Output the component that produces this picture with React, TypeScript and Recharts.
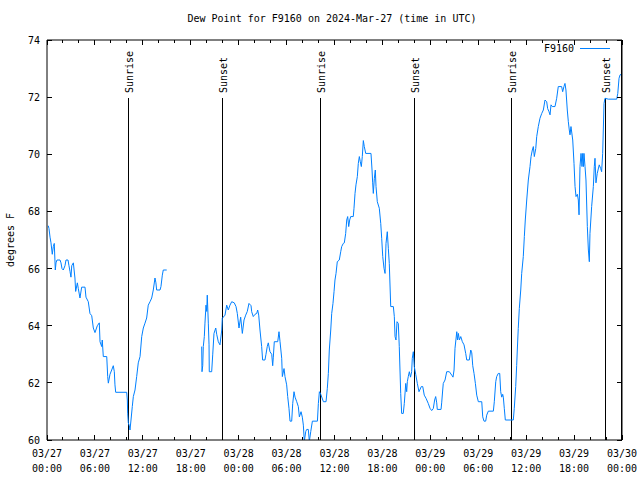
import React from "react";
import { LineChart, Line, XAxis, YAxis, ReferenceLine, Legend } from "recharts";

// [hours since 03/27 00:00 UTC, dew point °F]; null marks the data gap
const readings: [number, number | null][] = [
  [0.16, 67.5], [0.25, 67.4], [0.38, 67.1], [0.5, 66.9], [0.66, 66.5], [0.79, 66.77],
  [0.91, 66.88], [1.04, 65.95], [1.13, 66.2], [1.25, 66.3], [1.63, 66.3], [1.75, 66.2],
  [1.88, 66.0], [2.04, 65.95], [2.25, 66.1], [2.38, 66.3], [2.63, 66.3], [2.75, 66.1],
  [2.88, 65.9], [3.0, 65.7], [3.1, 66.1], [3.3, 66.2], [3.5, 65.67], [3.59, 65.2],
  [3.8, 65.5], [3.92, 65.3], [4.13, 64.97], [4.34, 65.35], [4.76, 65.35], [4.88, 65.0],
  [5.17, 64.84], [5.38, 64.43], [5.6, 64.35], [5.8, 63.92], [6.01, 63.76], [6.3, 64.0],
  [6.55, 64.1], [6.64, 63.44], [6.85, 63.27], [6.92, 63.5], [7.05, 62.92], [7.48, 62.92],
  [7.6, 62.22], [7.68, 61.99], [7.89, 62.3], [8.1, 62.45], [8.3, 62.6], [8.43, 62.39],
  [8.51, 61.93], [8.6, 61.67], [9.98, 61.67], [10.06, 61.4], [10.1, 60.94], [10.18, 60.6],
  [10.31, 60.5], [10.39, 60.35], [10.52, 60.7], [10.68, 61.17], [10.81, 61.52], [11.02, 61.75],
  [11.23, 62.22], [11.43, 62.7], [11.65, 62.92], [11.86, 63.62], [12.06, 63.92], [12.27, 64.09],
  [12.48, 64.27], [12.68, 64.72], [12.9, 64.84], [13.11, 64.97], [13.31, 65.25], [13.52, 65.67],
  [13.64, 65.5], [13.73, 65.25], [14.15, 65.25], [14.27, 65.37], [14.44, 65.77], [14.56, 65.95],
  [14.99, 65.95],
  [17.0, null],
  [19.37, 63.27], [19.41, 62.39], [19.5, 62.6], [19.57, 63.27], [19.7, 63.62], [19.78, 64.09],
  [19.91, 64.72], [20.0, 64.5], [20.07, 65.07], [20.2, 64.09], [20.29, 63.33], [20.32, 62.39],
  [20.62, 62.39], [20.75, 62.98], [20.91, 63.73], [21.13, 63.92], [21.25, 63.7], [21.45, 63.44],
  [21.66, 63.33], [21.88, 63.85], [21.95, 64.26], [22.29, 64.37], [22.5, 64.72], [22.7, 64.55],
  [22.91, 64.72], [23.13, 64.84], [23.45, 64.8], [23.67, 64.67], [23.83, 64.43], [24.04, 63.92],
  [24.25, 64.3], [24.46, 63.73], [24.67, 64.2], [24.88, 64.37], [25.08, 64.5], [25.29, 64.78],
  [25.55, 64.7], [25.63, 64.49], [25.83, 64.32], [26.05, 64.4], [26.26, 64.43], [26.38, 64.55],
  [26.51, 64.37], [26.67, 63.85], [26.88, 63.27], [27.0, 62.8], [27.29, 62.8], [27.42, 63.0],
  [27.58, 63.27], [27.71, 63.4], [27.92, 63.09], [28.14, 63.0], [28.26, 62.6], [28.34, 62.9],
  [28.46, 63.44], [28.89, 63.44], [29.05, 63.79], [29.18, 63.44], [29.39, 62.86], [29.47, 62.22],
  [29.68, 62.5], [29.8, 62.22], [30.01, 61.93], [30.14, 61.52], [30.3, 61.11], [30.43, 60.66],
  [30.64, 60.66], [30.77, 61.28], [30.93, 61.69], [31.06, 61.5], [31.27, 61.34], [31.47, 61.17],
  [31.6, 60.81], [31.81, 60.99], [31.97, 60.8], [32.1, 60.52], [32.22, 59.95], [32.4, 60.3],
  [32.52, 60.37], [32.72, 60.37], [32.85, 59.95], [33.03, 60.3], [33.23, 60.66], [33.86, 60.66],
  [33.98, 61.28], [34.11, 61.69], [34.28, 61.6], [34.61, 61.34], [34.94, 61.34], [35.1, 61.81],
  [35.23, 62.33], [35.35, 63.15], [35.53, 63.85], [35.65, 64.43], [35.81, 64.78], [35.94, 65.19],
  [36.06, 65.6], [36.19, 65.83], [36.35, 66.24], [36.6, 66.3], [36.78, 66.59], [36.9, 66.77],
  [37.1, 66.88], [37.23, 66.9], [37.4, 67.23], [37.53, 67.7], [37.65, 67.82], [37.78, 67.47],
  [37.9, 67.7], [38.03, 67.82], [38.35, 67.82], [38.44, 68.11], [38.57, 68.63], [38.69, 68.93],
  [38.86, 69.22], [38.98, 69.68], [39.11, 69.92], [39.23, 69.74], [39.36, 69.57], [39.48, 69.92],
  [39.61, 70.48], [39.73, 70.27], [39.91, 70.03], [40.57, 70.03], [40.7, 69.45], [40.78, 69.0],
  [40.86, 68.63], [40.99, 69.16], [41.11, 69.45], [41.2, 68.87], [41.36, 68.34], [41.61, 68.11],
  [41.79, 67.58], [41.91, 67.06], [42.04, 66.42], [42.2, 66.01], [42.33, 65.83], [42.45, 66.88],
  [42.61, 67.29], [42.74, 66.71], [42.86, 66.18], [43.04, 64.67], [43.37, 64.67], [43.49, 64.32],
  [43.58, 63.62], [43.7, 63.5], [43.83, 64.14], [43.99, 64.08], [44.11, 63.27], [44.29, 61.63],
  [44.41, 60.93], [44.61, 60.93], [44.74, 61.28], [44.92, 61.98], [45.04, 61.69], [45.12, 62.04],
  [45.24, 62.22], [45.37, 62.39], [45.52, 62.2], [45.66, 62.39], [45.74, 62.86], [45.87, 63.09],
  [45.99, 62.57], [46.17, 62.3], [46.37, 61.98], [46.58, 61.69], [46.87, 61.87], [47.05, 61.87],
  [47.24, 61.57], [47.46, 61.46], [47.74, 61.28], [47.96, 61.11], [48.17, 61.03], [48.37, 61.1],
  [48.54, 61.4], [48.67, 61.52], [48.8, 61.3], [48.87, 61.07], [49.34, 61.07], [49.42, 61.3],
  [49.55, 61.75], [49.62, 61.98], [49.84, 62.1], [50.05, 62.39], [50.38, 62.39], [50.68, 62.27],
  [50.84, 62.2], [50.97, 62.45], [51.09, 63.21], [51.31, 63.79], [51.41, 63.5], [51.51, 63.73],
  [51.64, 63.5], [51.81, 63.62], [52.01, 63.44], [52.22, 63.33], [52.43, 63.03], [52.56, 62.8],
  [52.88, 62.8], [53.06, 63.15], [53.19, 63.05], [53.31, 62.6], [53.47, 62.33], [53.64, 61.98],
  [53.81, 61.57], [54.01, 61.34], [54.44, 61.34], [54.56, 60.81], [54.72, 60.66], [54.93, 60.66],
  [55.06, 60.87], [55.26, 61.01], [55.89, 61.01], [56.01, 61.34], [56.19, 62.04], [56.31, 62.22],
  [56.51, 62.33], [56.69, 62.33], [56.81, 61.69], [56.94, 61.5], [57.06, 61.6], [57.14, 61.5],
  [57.26, 61.11], [57.39, 60.7], [58.39, 60.7], [58.51, 61.11], [58.69, 61.87], [58.81, 62.6],
  [58.89, 63.15], [59.01, 63.9], [59.14, 64.6], [59.32, 65.25], [59.44, 65.83], [59.64, 66.42],
  [59.77, 67.12], [59.89, 67.7], [60.07, 68.4], [60.27, 69.1], [60.48, 69.57], [60.61, 69.92],
  [60.77, 70.15], [60.9, 70.27], [61.02, 69.92], [61.2, 70.2], [61.32, 70.62], [61.52, 70.97],
  [61.73, 71.26], [61.95, 71.43], [62.15, 71.55], [62.36, 71.9], [62.57, 71.84], [62.69, 71.6],
  [62.86, 71.49], [62.99, 71.38], [63.11, 71.73], [63.27, 71.67], [63.61, 71.67], [63.82, 71.96],
  [64.02, 72.37], [64.44, 72.37], [64.57, 72.19], [64.73, 72.37], [64.86, 72.48], [64.98, 72.25],
  [65.15, 71.55], [65.28, 71.14], [65.4, 70.85], [65.49, 70.68], [65.61, 70.97], [65.83, 70.5],
  [65.99, 69.68], [66.12, 68.87], [66.24, 68.52], [66.41, 68.6], [66.53, 68.4], [66.62, 67.88],
  [66.74, 69.57], [66.87, 70.03], [66.99, 69.57], [67.08, 70.03], [67.18, 69.57], [67.24, 70.03],
  [67.37, 69.57], [67.49, 69.1], [67.66, 67.47], [67.79, 66.65], [67.91, 66.24], [67.99, 67.23],
  [68.2, 68.17], [68.41, 68.87], [68.53, 69.57], [68.62, 69.86], [68.74, 69.0], [68.9, 69.33],
  [69.15, 69.63], [69.33, 69.5], [69.45, 69.39], [69.58, 70.03], [69.75, 71.78], [69.87, 71.96],
  [70.29, 71.93], [71.34, 71.93], [71.47, 72.13], [71.63, 72.66], [71.76, 72.78], [71.88, 72.8],
];

// sunrise / sunset times (hours since 03/27 00:00 UTC)
const sunHours = [10.14, 21.91, 34.19, 45.96, 58.1, 69.87];
const sunLabels = ["Sunrise", "Sunset", "Sunrise", "Sunset", "Sunrise", "Sunset"];

const xTicks = [
  0, 2, 4, 6, 8, 10, 12, 14, 16, 18, 20, 22, 24, 26, 28, 30, 32, 34, 36,
  38, 40, 42, 44, 46, 48, 50, 52, 54, 56, 58, 60, 62, 64, 66, 68, 70, 72,
];
const dayLabels = ["03/27", "03/28", "03/29", "03/30"];
const yTicks = [60, 62, 64, 66, 68, 70, 72, 74];

const data = readings.map(([t, v]) => ({ t, dew: v }));

const FONT = "'DejaVu Sans Mono', monospace";
const BLUE = "#0080ff";

const pad = (n: number) => (n < 10 ? "0" + n : "" + n);

const BottomTick = (props: any) => {
  const { x, y, payload } = props;
  const v = payload.value;
  const major = v % 6 === 0;
  return (
    <g>
      <line x1={x} y1={y} x2={x} y2={y - (major ? 5 : 3)} stroke="#000" shapeRendering="crispEdges" />
      {major && (
        <text x={x} y={y + 17} textAnchor="middle" fontSize={10} fontFamily={FONT} fill="#000">
          <tspan x={x}>{dayLabels[Math.floor(v / 24)]}</tspan>
          <tspan x={x} dy={15}>{pad(v % 24) + ":00"}</tspan>
        </text>
      )}
    </g>
  );
};

const TopTick = (props: any) => {
  const { x, y, payload } = props;
  const major = payload.value % 6 === 0;
  return <line x1={x} y1={y} x2={x} y2={y + (major ? 5 : 3)} stroke="#000" shapeRendering="crispEdges" />;
};

const LeftTick = (props: any) => {
  const { x, y, payload } = props;
  return (
    <g>
      <line x1={x} y1={y} x2={x + 5} y2={y} stroke="#000" shapeRendering="crispEdges" />
      <text x={x - 7} y={y + 4} textAnchor="end" fontSize={10} fontFamily={FONT} fill="#000">
        {payload.value}
      </text>
    </g>
  );
};

const RightTick = (props: any) => {
  const { x, y } = props;
  return <line x1={x} y1={y} x2={x - 5} y2={y} stroke="#000" shapeRendering="crispEdges" />;
};

const sunShape = (label: string) => (p: any) => {
  const top = Math.min(p.y1, p.y2);
  const bottom = Math.max(p.y1, p.y2);
  const x = Math.round(p.x1) + 0.5;
  return (
    <g>
      <line x1={x} y1={top + 58} x2={x} y2={bottom} stroke="#000" strokeWidth={1} />
      <text
        x={x + 4}
        y={top + 53}
        transform={`rotate(-90 ${x + 4} ${top + 53})`}
        textAnchor="start"
        fontSize={10}
        fontFamily={FONT}
        fill="#000"
      >
        {label}
      </text>
    </g>
  );
};

const App: React.FC = () => {
  return (
    <div style={{ position: "absolute", left: 0, top: 0, width: 640, height: 480, background: "#fff", overflow: "hidden" }}>
      <div
        style={{
          position: "absolute",
          top: 13,
          left: 0,
          width: 640,
          paddingLeft: 24,
          boxSizing: "border-box",
          textAlign: "center",
          fontFamily: FONT,
          fontSize: 10,
          color: "#000",
        }}
      >
        Dew Point for F9160 on 2024-Mar-27 (time in UTC)
      </div>
      <div
        style={{
          position: "absolute",
          left: 10,
          top: 240,
          transform: "translate(-50%, -50%) rotate(-90deg)",
          fontFamily: FONT,
          fontSize: 10,
          whiteSpace: "nowrap",
          color: "#000",
        }}
      >
        degrees F
      </div>
      <LineChart
        width={640}
        height={480}
        data={data}
        margin={{ top: 39, right: 17, bottom: 39, left: 0 }}
        style={{ position: "absolute", left: 0, top: 0 }}
      >
        <XAxis
          dataKey="t"
          type="number"
          domain={[0, 72]}
          ticks={xTicks}
          interval={0}
          height={1}
          tickSize={0}
          tickMargin={0}
          tick={<BottomTick />}
          axisLine={{ stroke: "#000" }}
          tickLine={false}
          allowDataOverflow
        />
        <XAxis
          xAxisId="top"
          dataKey="t"
          orientation="top"
          type="number"
          domain={[0, 72]}
          ticks={xTicks}
          interval={0}
          height={1}
          tickSize={0}
          tickMargin={0}
          tick={<TopTick />}
          axisLine={{ stroke: "#000" }}
          tickLine={false}
          allowDataOverflow
        />
        <YAxis
          type="number"
          domain={[60, 74]}
          ticks={yTicks}
          interval={0}
          width={47}
          tickSize={0}
          tickMargin={0}
          tick={<LeftTick />}
          axisLine={{ stroke: "#000" }}
          tickLine={false}
          allowDataOverflow
        />
        <YAxis
          yAxisId="right"
          dataKey="dew"
          orientation="right"
          type="number"
          domain={[60, 74]}
          ticks={yTicks}
          interval={0}
          width={1}
          tickSize={0}
          tickMargin={0}
          tick={<RightTick />}
          axisLine={{ stroke: "#000" }}
          tickLine={false}
          allowDataOverflow
        />
        {sunHours.map((h, i) => (
          <ReferenceLine key={`sun-${i}`} x={h} shape={sunShape(sunLabels[i])} />
        ))}
        <Line
          dataKey="dew"
          name="F9160"
          type="linear"
          stroke={BLUE}
          strokeWidth={1}
          dot={false}
          connectNulls={false}
          isAnimationActive={false}
        />
        <Legend
          layout="horizontal"
          verticalAlign="middle"
          align="center"
          wrapperStyle={{ position: "absolute", top: 41, left: 500, width: 120, height: 14 }}
          content={() => (
            <svg width={120} height={14}>
              <text x={74} y={11} textAnchor="end" fontSize={10} fontFamily={FONT} fill="#000">
                F9160
              </text>
              <line x1={80} y1={7.5} x2={110} y2={7.5} stroke={BLUE} strokeWidth={1} />
            </svg>
          )}
        />
      </LineChart>
      {/* right edge of the plot frame */}
      <div
        style={{
          position: "absolute",
          left: 621,
          top: 40,
          width: 1,
          height: 401,
          background: "#000",
          zIndex: 5,
          pointerEvents: "none",
        }}
      />
    </div>
  );
};

export default App;
